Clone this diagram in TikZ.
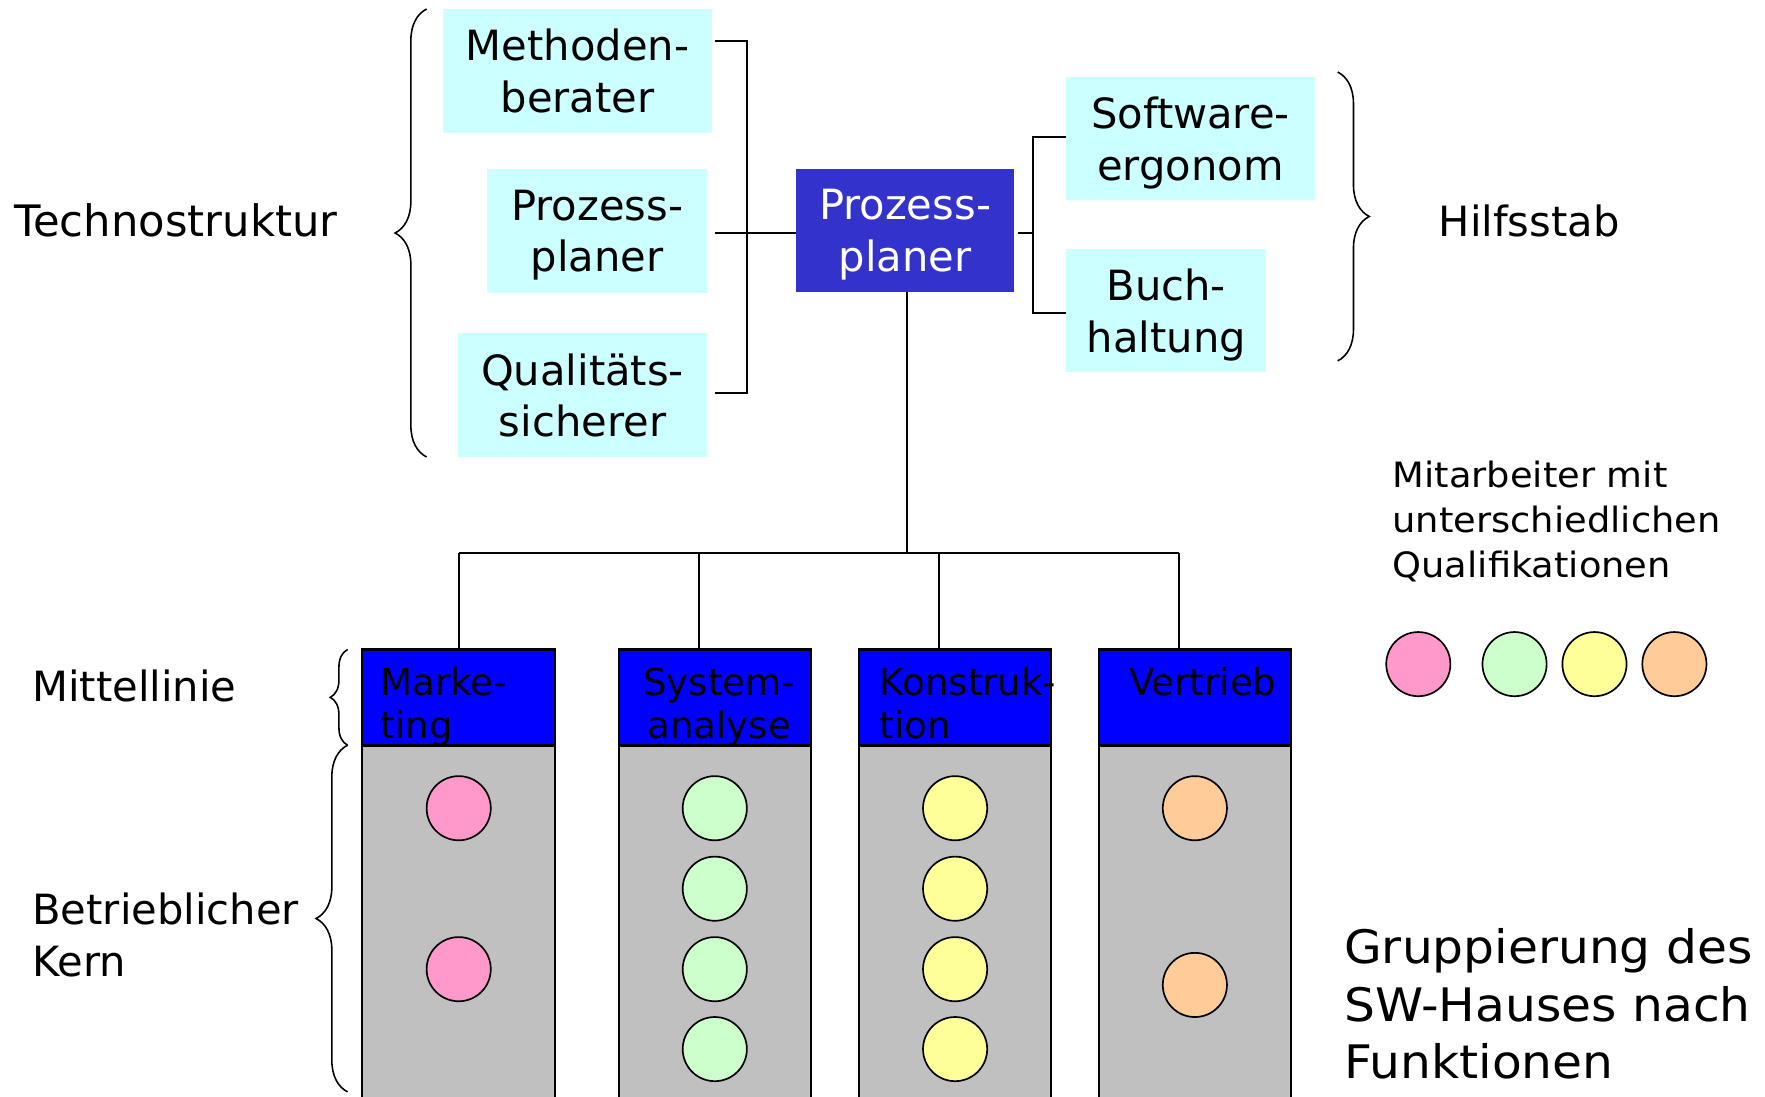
\documentclass[tikz,border=0pt]{standalone}
\usepackage{fontspec}
\setmainfont{DejaVu Sans}
\newfontfamily\wideface[FakeStretch=1.055]{DejaVu Sans}
\usetikzlibrary{decorations.pathreplacing}

\definecolor{staffcyan}{HTML}{CCFFFF}
\definecolor{plannerblue}{HTML}{3333CC}
\definecolor{lineblue}{HTML}{0000FF}
\definecolor{coregray}{HTML}{C0C0C0}
\definecolor{qpink}{HTML}{FF99CC}
\definecolor{qgreen}{HTML}{CCFFCC}
\definecolor{qyellow}{HTML}{FFFF99}
\definecolor{qorange}{HTML}{FFCC99}

\newcommand\fsMain{\fontsize{37}{46}\selectfont}
\newcommand\fsHead{\fontsize{33}{38}\selectfont}
\newcommand\fsNote{\wideface\fontsize{31}{40}\selectfont}
\newcommand\fsTitle{\wideface\fontsize{41}{51}\selectfont}

\begin{document}
\begin{tikzpicture}[x=1pt,y=-1pt,
  conn/.style={line width=1.8pt},
  bracestyle/.style={line width=1.4pt, decorate, decoration={brace, amplitude=#1}},
  staffbox/.style={fill=staffcyan, inner sep=0pt, align=center, font=\fsMain},
  planbox/.style={fill=plannerblue, text=white, inner sep=0pt, align=center, font=\fsMain},
  headbox/.style={draw, line width=1.8pt, fill=lineblue, minimum width=171, minimum height=85, inner sep=0pt},
  corebox/.style={draw, line width=1.8pt, fill=coregray, minimum width=171, minimum height=340, inner sep=0pt, anchor=north},
  headlabel/.style={inner sep=0pt, font=\fsHead, anchor=north west, align=left},
  worker/.style={circle, draw, line width=1.5pt, minimum size=57, inner sep=0pt},
  sidelabel/.style={inner sep=0pt, font=\fsMain}
]
\useasboundingbox (0,0) rectangle (1568,974);

% ---- staff units around the process planner ----
\node[staffbox, minimum width=239, minimum height=110] (meth) at (513,63) {Methoden-\\\smash{berater}};
\node[staffbox, minimum width=195.3, minimum height=110] (pplan) at (530.4,205) {Prozess-\\\smash{planer}};
\node[staffbox, minimum width=221, minimum height=110] (qual) at (517.5,351) {Qualitäts-\\\smash{sicherer}};
\node[planbox, minimum width=194, minimum height=109] (plan) at (804,204.5) {Prozess-\\\smash{planer}};
\node[staffbox, minimum width=220.8, minimum height=109.3] (soft) at (1057.6,123.2) {Software-\\\smash{ergonom}};
\node[staffbox, minimum width=177.8, minimum height=109.3] (buch) at (1036.1,276) {Buch-\\\smash{haltung}};

% bracket joining the techno-structure to the planner
\coordinate (tsA) at (635,36.4);
\coordinate (tsJ) at (663.6,207);
\coordinate (tsB) at (635,349);
\coordinate (tsC) at (635,207);
\draw[conn] (tsA) -| (tsJ) |- (tsB);
\draw[conn] (tsC) -- (plan.west |- tsC);

% bracket joining the support staff
\coordinate (hsA) at (918,121.3);
\coordinate (hsJ) at (918,206.6);
\coordinate (hsB) at (918,277.7);
\coordinate (hsD) at (904.8,206.6);
\draw[conn] (soft.west |- hsA) -- (hsA) -- (hsB) -- (buch.west |- hsB);
\draw[conn] (hsD) -- (hsJ);

% braces and group labels at the top
\draw[bracestyle=28] (379,406) -- (379,8);
\draw[bracestyle=28] (1188.4,64) -- (1188.4,320.6);
\node[sidelabel, anchor=base west, font=\fontsize{38.5}{46}\selectfont] (techno) at (12.4,210) {Technostruktur};
\node[sidelabel, anchor=base west] (hilfs) at (1278,210) {Hilfsstab};

% ---- line down to the departments ----
\coordinate (bus) at (805.4,491);
\coordinate (d1) at (407.5,491);
\coordinate (d2) at (620.6,491);
\coordinate (d3) at (834.4,491);
\coordinate (d4) at (1047,491);
\draw[conn] (plan.south -| bus) -- (bus);
\draw[conn] (d1) -- (d4);

% department columns: operating core below, middle line on top
\node[corebox] (mkb) at (407.5,662) {};
\node[corebox] (sab) at (635,662) {};
\node[corebox] (kob) at (848.5,662) {};
\node[corebox] (vtb) at (1061.5,662) {};
\node[headbox] (mkh) at (407.5,619.5) {};
\node[headbox] (sah) at (635,619.5) {};
\node[headbox] (koh) at (848.5,619.5) {};
\node[headbox] (vth) at (1061.5,619.5) {};

\draw[conn] (d1) -- (d1 |- mkh.north);
\draw[conn] (d2) -- (d2 |- sah.north);
\draw[conn] (d3) -- (d3 |- koh.north);
\draw[conn] (d4) -- (d4 |- vth.north);

\node[headlabel] (mkt) at (338,593) {Marke-\\ting};
\node[headlabel, anchor=north, align=center] (sat) at (639,593) {System-\\analyse};
\node[headlabel] (kot) at (781.5,593) {Konstruk-\\tion};
\node[headlabel] (vtt) at (1003,593) {Vertrieb};

% staff members in each department
\node[worker, fill=qpink] (mk1) at (407.5,718) {};
\node[worker, fill=qpink] (mk2) at (407.5,861) {};
\foreach \i/\yy in {1/718,2/789.5,3/861,4/932} {
  \node[worker, fill=qgreen] (sa\i) at (635,\yy) {};
  \node[worker, fill=qyellow] (ko\i) at (848.5,\yy) {};
}
\node[worker, fill=qorange] (vt1) at (1061.5,718) {};
\node[worker, fill=qorange] (vt2) at (1061.5,875) {};

% braces and labels for middle line and operating core
\draw[bracestyle=15.4] (308.8,662) -- (308.8,577);
\draw[bracestyle=28] (308.8,970) -- (308.8,662);
\node[sidelabel, anchor=base west] (mittel) at (28.6,623.6) {Mittellinie};
\node[sidelabel, anchor=north west, align=left] (kern) at (28.6,793) {Betrieblicher\\Kern};

% legend of qualifications
\node[inner sep=0pt, font=\fsNote, anchor=north west, align=left] (legend) at (1237,409)
  {Mitarbeiter mit\\unterschiedlichen\\Qualifikationen};
\node[worker, fill=qpink] (lg1) at (1260,590) {};
\node[worker, fill=qgreen] (lg2) at (1345.5,590) {};
\node[worker, fill=qyellow] (lg3) at (1416.5,590) {};
\node[worker, fill=qorange] (lg4) at (1487.5,590) {};

% caption
\node[inner sep=0pt, font=\fsTitle, anchor=north west, align=left] (caption) at (1194,825)
  {Gruppierung des\\SW-Hauses nach\\Funktionen};
\end{tikzpicture}
\end{document}
